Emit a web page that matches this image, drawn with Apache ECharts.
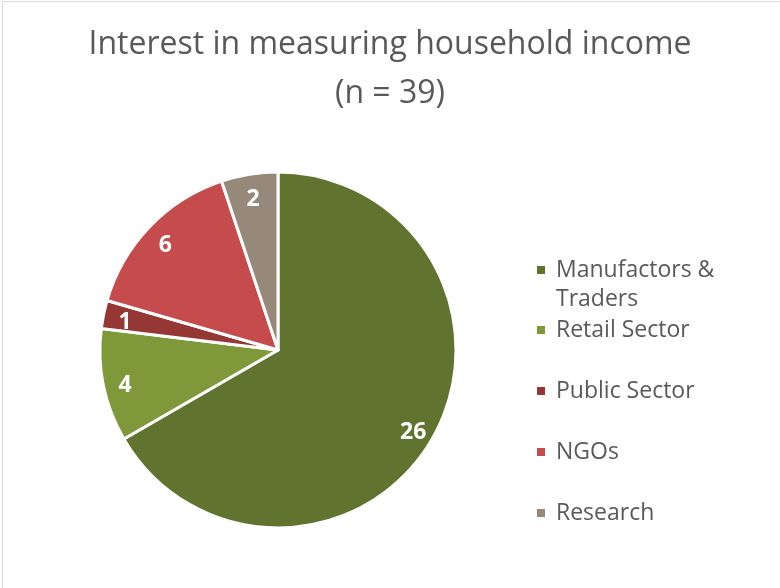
<!DOCTYPE html>
<html>
<head>
<meta charset="utf-8">
<script src="https://cdn.jsdelivr.net/npm/echarts@6/dist/echarts.min.js"></script>
<style>
  html, body { margin: 0; padding: 0; background: #ffffff; }
  #chart { width: 780px; height: 588px; }
</style>
</head>
<body>
<div id="chart"></div>
<script>
// Respondent groups and how many of them are interested
const categories = ['Manufactors & Traders', 'Retail Sector', 'Public Sector', 'NGOs', 'Research'];
const counts = [26, 4, 1, 6, 2];
const colors = ['#60742F', '#7F993A', '#953735', '#C64B4D', '#978979'];
const titleText = 'Interest in measuring household income\n(n = 39)';

const FONT = '"Open Sans", "Noto Sans", sans-serif';
const TEXT_COLOR = '#595959';
const R = 178;
const LEGEND_LINE = 29;

const pieData = categories.map((name, i) => ({
  name: name,
  value: counts[i],
  itemStyle: { color: colors[i] }
}));

// Transparent ring used only to place the value labels near the rim
const labelRing = categories.map((name, i) => ({ name: name, value: counts[i] }));

const legendBase = {
  orient: 'vertical',
  left: 535,
  padding: 0,
  itemWidth: 10,
  itemHeight: 10,
  icon: 'rect',
  selectedMode: false,
  textStyle: {
    fontFamily: FONT,
    fontSize: 23,
    color: TEXT_COLOR,
    lineHeight: LEGEND_LINE,
    padding: [0, 0, 0, 5]
  }
};

const chart = echarts.init(document.getElementById('chart'), null, { renderer: 'canvas' });
chart.setOption({
  animation: false,
  backgroundColor: '#ffffff',
  graphic: [{
    type: 'rect',
    silent: true,
    shape: { x: 2.5, y: 1.5, width: 900, height: 700 },
    style: { fill: 'none', stroke: '#D9D9D9', lineWidth: 1 }
  }],
  title: {
    text: titleText,
    left: 'center',
    top: 15,
    textStyle: {
      fontFamily: FONT,
      fontSize: 32,
      fontWeight: 'normal',
      color: TEXT_COLOR,
      lineHeight: 49
    }
  },
  legend: [Object.assign({}, legendBase, {
    // the wrapped first entry keeps its marker beside the first line:
    // an empty leading line makes "Manufactors &" the middle row
    top: 226.5,
    data: [categories[0]],
    formatter: () => ' \nManufactors &\nTraders'
  }), Object.assign({}, legendBase, {
    top: 315.5,
    itemGap: 32,
    data: categories.slice(1)
  })],
  series: [{
    type: 'pie',
    center: [278, 350],
    radius: [0, R],
    startAngle: 90,
    clockwise: true,
    data: pieData,
    label: { show: false },
    labelLine: { show: false },
    itemStyle: { borderColor: '#ffffff', borderWidth: 3 },
    emphasis: { disabled: true }
  }, {
    type: 'pie',
    silent: true,
    center: [278, 350],
    radius: [R * 0.72, R],
    startAngle: 90,
    clockwise: true,
    data: labelRing,
    itemStyle: { color: 'rgba(0,0,0,0)', borderWidth: 0 },
    label: {
      show: true,
      position: 'inside',
      formatter: '{c}',
      offset: [0, 4],
      fontFamily: FONT,
      fontSize: 23,
      fontWeight: 'bold',
      color: '#ffffff'
    },
    labelLine: { show: false },
    emphasis: { disabled: true }
  }]
});
</script>
</body>
</html>
